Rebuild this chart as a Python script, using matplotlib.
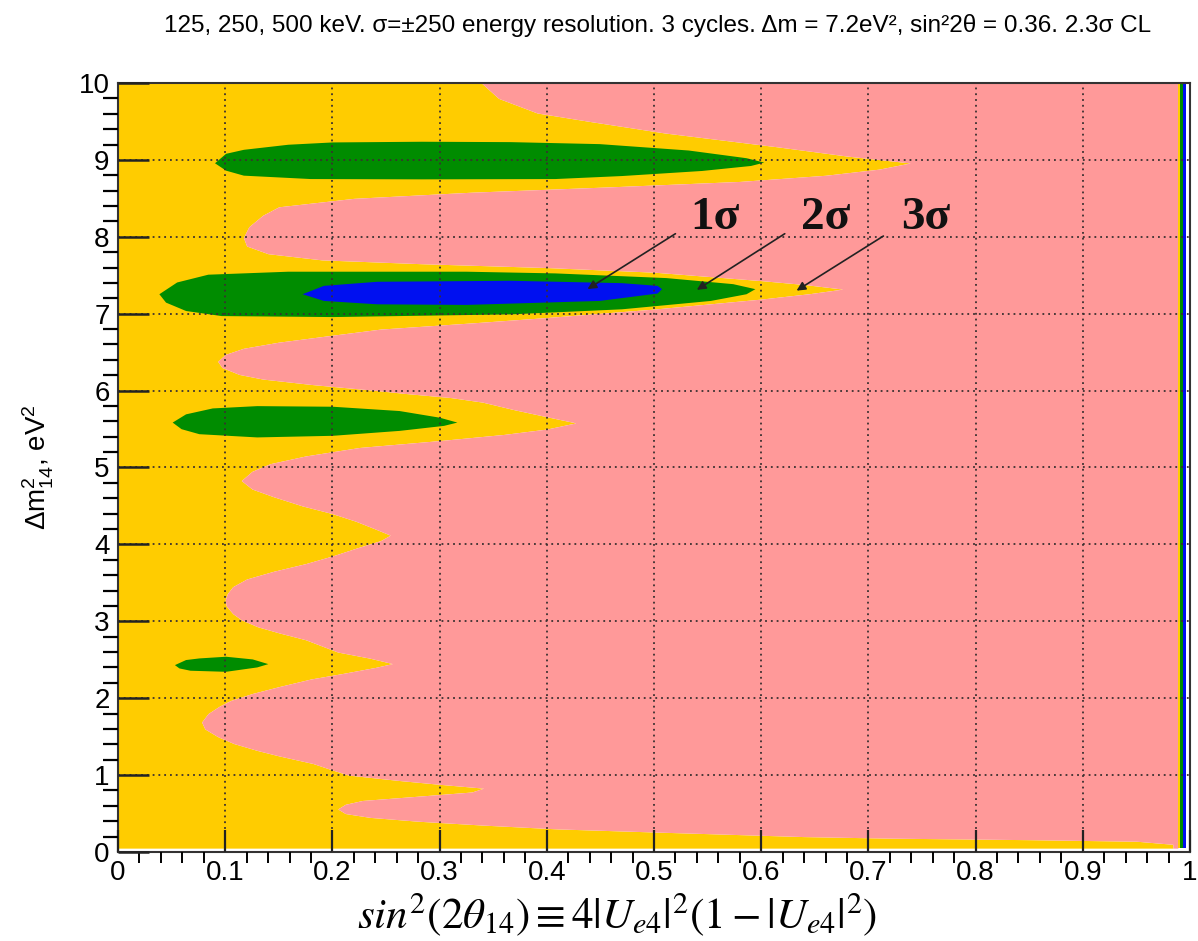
import matplotlib
matplotlib.use("Agg")
import matplotlib.pyplot as plt
from matplotlib.ticker import MultipleLocator, FixedLocator, FixedFormatter

# Boundary between the 3 sigma allowed (yellow) and excluded (pink) region,
# read off the picture: for each dm2 value the largest allowed sin^2(2theta)
dm2_edge = [0.05, 0.10, 0.14, 0.16, 0.18, 0.20, 0.23, 0.26, 0.30, 0.35, 0.40, 0.45,
            0.50, 0.56, 0.62, 0.67, 0.72, 0.78, 0.83, 0.88, 0.93, 1.00, 1.08, 1.15,
            1.25, 1.32, 1.41, 1.50, 1.60, 1.69, 1.80, 1.90, 1.97, 2.06, 2.15, 2.25,
            2.32, 2.40, 2.45, 2.52, 2.60, 2.68, 2.76, 2.85, 2.93, 3.02, 3.10, 3.20,
            3.28, 3.36, 3.45, 3.55, 3.65, 3.75, 3.85, 3.95, 4.05, 4.12, 4.20, 4.30,
            4.40, 4.50, 4.62, 4.72, 4.83, 4.95, 5.05, 5.15, 5.26, 5.35, 5.43, 5.50,
            5.58, 5.66, 5.75, 5.85, 5.91, 5.96, 6.00, 6.08, 6.15, 6.21, 6.30, 6.38,
            6.47, 6.55, 6.63, 6.72, 6.80, 6.88, 6.95, 7.06, 7.19, 7.26, 7.32, 7.38,
            7.43, 7.54, 7.60, 7.65, 7.70, 7.78, 7.88, 7.99, 8.13, 8.28, 8.39, 8.50,
            8.58, 8.65, 8.72, 8.80, 8.88, 8.96, 9.05, 9.17, 9.35, 9.50, 9.61, 9.80,
            10.0]
sin2_edge = [0.984, 0.984, 0.95, 0.85, 0.72, 0.64, 0.57, 0.50, 0.41, 0.34, 0.28, 0.235,
             0.212, 0.205, 0.212, 0.228, 0.275, 0.33, 0.341, 0.30, 0.262, 0.215, 0.197, 0.182,
             0.15, 0.13, 0.108, 0.093, 0.081, 0.078, 0.084, 0.095, 0.105, 0.125, 0.15, 0.18,
             0.209, 0.24, 0.256, 0.235, 0.205, 0.19, 0.175, 0.15, 0.13, 0.115, 0.107, 0.101,
             0.10, 0.102, 0.107, 0.12, 0.145, 0.175, 0.20, 0.222, 0.245, 0.254, 0.24, 0.222,
             0.20, 0.172, 0.145, 0.125, 0.115, 0.125, 0.142, 0.175, 0.225, 0.30, 0.36, 0.40,
             0.427, 0.40, 0.37, 0.34, 0.31, 0.27, 0.242, 0.18, 0.135, 0.113, 0.097, 0.093,
             0.10, 0.117, 0.15, 0.20, 0.245, 0.33, 0.40, 0.50, 0.60, 0.645, 0.676, 0.64,
             0.60, 0.50, 0.40, 0.283, 0.19, 0.14, 0.12, 0.117, 0.122, 0.135, 0.15, 0.22,
             0.33, 0.46, 0.58, 0.66, 0.71, 0.739, 0.68, 0.615, 0.51, 0.44, 0.391, 0.355,
             0.339]
sin2_pink_end = 0.9888

# 2 sigma islands (green), outlines as (sin2, dm2)
green_9_x = [0.0905, 0.1008, 0.1174, 0.1589, 0.2004, 0.2834, 0.3664, 0.4494, 0.5324, 0.5863,
             0.6029, 0.5905, 0.5448, 0.4701, 0.4079, 0.2834, 0.1797, 0.1174, 0.1008]
green_9_y = [8.956, 9.079, 9.131, 9.197, 9.227, 9.236, 9.231, 9.205, 9.122, 9.022,
             8.965, 8.921, 8.856, 8.790, 8.751, 8.747, 8.751, 8.795, 8.860]

green_7_x = [0.0386, 0.0552, 0.0842, 0.1589, 0.3249, 0.4079, 0.5116, 0.5739, 0.5946,
             0.5863, 0.5531, 0.4701, 0.3664, 0.2004, 0.0967, 0.0635, 0.0448]
green_7_y = [7.253, 7.406, 7.507, 7.546, 7.546, 7.524, 7.463, 7.384, 7.319,
             7.253, 7.166, 7.057, 6.991, 6.956, 6.969, 7.035, 7.144]

green_56_x = [0.0510, 0.0635, 0.0884, 0.1299, 0.2004, 0.2627, 0.3000, 0.3166,
              0.3041, 0.2627, 0.2004, 0.1299, 0.0759, 0.0593]
green_56_y = [5.584, 5.691, 5.768, 5.798, 5.790, 5.734, 5.648, 5.584,
              5.541, 5.476, 5.412, 5.391, 5.433, 5.498]

green_24_x = [0.0531, 0.0635, 0.0759, 0.1008, 0.1257, 0.1402, 0.1299, 0.1008, 0.0676, 0.0573]
green_24_y = [2.430, 2.496, 2.517, 2.539, 2.504, 2.443, 2.400, 2.343, 2.357, 2.387]

# 1 sigma island (blue)
blue_7_x = [0.1722, 0.1921, 0.2419, 0.3664, 0.4701, 0.5033, 0.5075,
            0.5033, 0.4494, 0.3249, 0.2419, 0.1921]
blue_7_y = [7.253, 7.362, 7.415, 7.428, 7.397, 7.362, 7.319,
            7.262, 7.166, 7.114, 7.122, 7.166]

# thin stripe at sin2 ~ 1 (3, 2, 1 sigma)
stripe_edges = [0.9888, 0.9907, 0.9937, 0.9963]

xtick_values = [0, 0.1, 0.2, 0.3, 0.4, 0.5, 0.6, 0.7, 0.8, 0.9, 1]
xtick_labels = ["0", "0.1", "0.2", "0.3", "0.4", "0.5", "0.6", "0.7", "0.8", "0.9", "1"]
ytick_values = [0, 1, 2, 3, 4, 5, 6, 7, 8, 9, 10]
ytick_labels = ["0", "1", "2", "3", "4", "5", "6", "7", "8", "9", "10"]

sigma_labels = ["1σ", "2σ", "3σ"]
sigma_text_x = [0.557, 0.660, 0.753]
sigma_text_y = [8.25, 8.25, 8.25]
arrow_start_x = [0.520, 0.622, 0.714]
arrow_start_y = [8.04, 8.04, 8.01]
arrow_end_x = [0.438, 0.540, 0.633]
arrow_end_y = [7.32, 7.31, 7.30]

title = ("125, 250, 500 keV. σ=±250 energy resolution. 3 cycles. "
         "Δm = 7.2eV², sin²2θ = 0.36. 2.3σ CL")

YELLOW = "#ffcc00"
PINK = "#ff9999"
GREEN = "#008c00"
BLUE = "#0010f0"

plt.rcParams["font.family"] = ["Liberation Sans", "DejaVu Sans"]
plt.rcParams["mathtext.fontset"] = "custom"
plt.rcParams["mathtext.rm"] = "Liberation Sans"
plt.rcParams["mathtext.it"] = "Liberation Sans:italic"

fig = plt.figure(figsize=(11.98, 9.41), dpi=100)
ax = fig.add_axes([0.0985, 0.0946, 0.8948, 0.8172])
ax.set_xlim(0, 1)
ax.set_ylim(0, 10)

# allowed / excluded regions
ax.fill_betweenx(dm2_edge, 0, sin2_edge, color=YELLOW, lw=0)
ax.fill_betweenx(dm2_edge, sin2_edge, sin2_pink_end, color=PINK, lw=0)

for xs, ys in [(green_9_x, green_9_y), (green_7_x, green_7_y),
               (green_56_x, green_56_y), (green_24_x, green_24_y)]:
    ax.fill(xs, ys, color=GREEN, lw=0)
ax.fill(blue_7_x, blue_7_y, color=BLUE, lw=0)

for x0, x1, c in zip(stripe_edges[:-1], stripe_edges[1:], [YELLOW, GREEN, BLUE]):
    ax.fill_betweenx([dm2_edge[0], dm2_edge[-1]], x0, x1, color=c, lw=0)

# grid and ticks, ROOT-like
ax.set_axisbelow(False)
ax.grid(True, which="major", linestyle=(0, (1, 2.2)), color="#3a3030", linewidth=1.3)
ax.xaxis.set_major_locator(FixedLocator(xtick_values))
ax.xaxis.set_major_formatter(FixedFormatter(xtick_labels))
ax.yaxis.set_major_locator(FixedLocator(ytick_values))
ax.yaxis.set_major_formatter(FixedFormatter(ytick_labels))
ax.xaxis.set_minor_locator(MultipleLocator(0.02))
ax.yaxis.set_minor_locator(MultipleLocator(0.2))
ax.tick_params(direction="in", colors="#222222", labelcolor="black", labelsize=20,
               top=False, right=False)
ax.tick_params(axis="x", which="major", length=16, width=1.6, pad=6)
ax.tick_params(axis="x", which="minor", length=8, width=1.4)
ax.tick_params(axis="y", which="major", length=22, width=1.8, pad=6)
ax.tick_params(axis="y", which="minor", length=11, width=1.6)
for spine in ax.spines.values():
    spine.set_color("#333333")
    spine.set_linewidth(1.5)

# sigma annotations
for lab, tx, ty, sx, sy, ex, ey in zip(sigma_labels, sigma_text_x, sigma_text_y,
                                        arrow_start_x, arrow_start_y, arrow_end_x, arrow_end_y):
    ax.text(tx, ty, lab, ha="center", va="center", fontsize=34, fontweight="bold",
            family=["Liberation Serif", "DejaVu Serif"], color="#111111")
    ax.annotate("", xy=(ex, ey), xytext=(sx, sy),
                arrowprops=dict(arrowstyle="-|>", color="#222222", lw=1.2,
                                mutation_scale=13, shrinkA=0, shrinkB=0))

ax.set_ylabel(r"$\Delta$m$^{2}_{14}$, eV$^{2}$", fontsize=20, labelpad=16)
fig.text(0.515, 0.028, r"$sin^{2}(2\theta_{14}) \equiv 4|U_{e4}|^{2}(1-|U_{e4}|^{2})$",
         ha="center", va="center", fontsize=31, math_fontfamily="stix")
fig.text(0.549, 0.973, title, ha="center", va="center", fontsize=17.5)

fig.savefig("out.png", dpi=100)
